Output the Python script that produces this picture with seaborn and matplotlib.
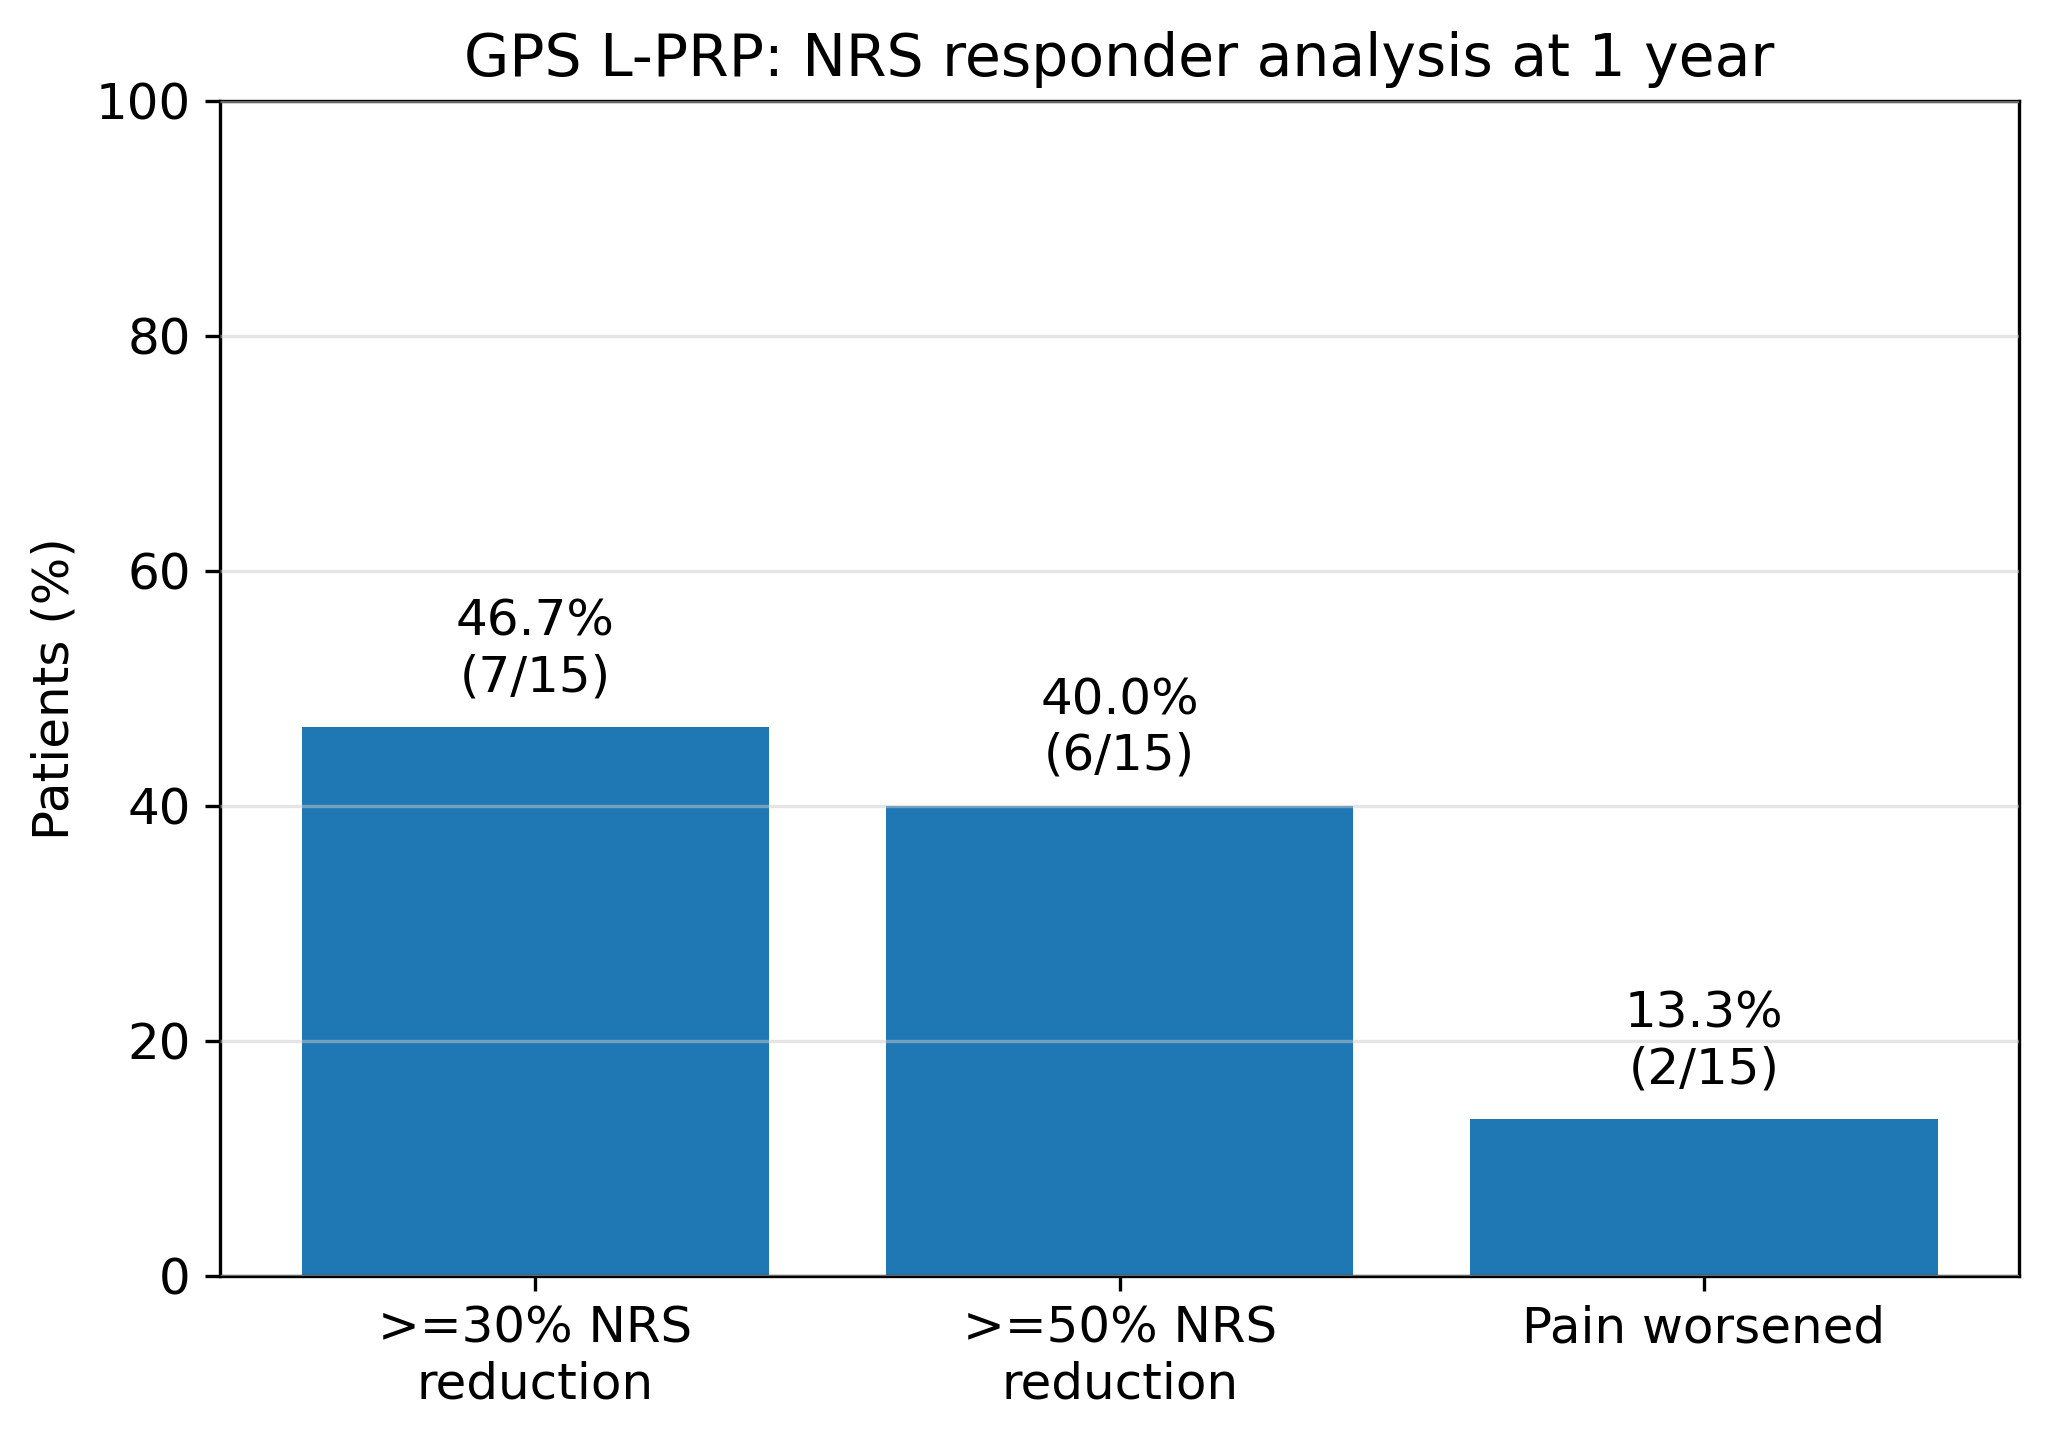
import matplotlib
matplotlib.use("Agg")
import matplotlib.pyplot as plt
import pandas as pd
import seaborn as sns

categories = [">=30% NRS\nreduction", ">=50% NRS\nreduction", "Pain worsened"]
counts = [7, 6, 2]
total = 15
percents = [100.0 * c / total for c in counts]

df = pd.DataFrame({"category": categories, "percent": percents})

plt.rcParams["font.family"] = ["DejaVu Sans"]

fig, ax = plt.subplots(figsize=(6.82, 4.797), dpi=300)
fig.subplots_adjust(left=0.1075, right=0.987, top=0.93, bottom=0.1135)

sns.barplot(data=df, x="category", y="percent", color="#1f77b4", saturation=1,
            width=0.8, ax=ax)

for i, (p, c) in enumerate(zip(percents, counts)):
    ax.text(i, p + 2.2, f"{p:.1f}%\n({c}/{total})", ha="center", va="bottom",
            fontsize=12)

ax.set_xlim(-0.54, 2.54)
ax.set_ylim(0, 100)
ax.set_xlabel("")
ax.set_ylabel("Patients (%)", fontsize=12)
ax.set_title("GPS L-PRP: NRS responder analysis at 1 year", fontsize=14)
ax.tick_params(labelsize=12)
ax.yaxis.grid(True, color="#cccccc", alpha=0.5, linewidth=0.8)
ax.set_axisbelow(False)

fig.savefig("out.png", dpi=300)
